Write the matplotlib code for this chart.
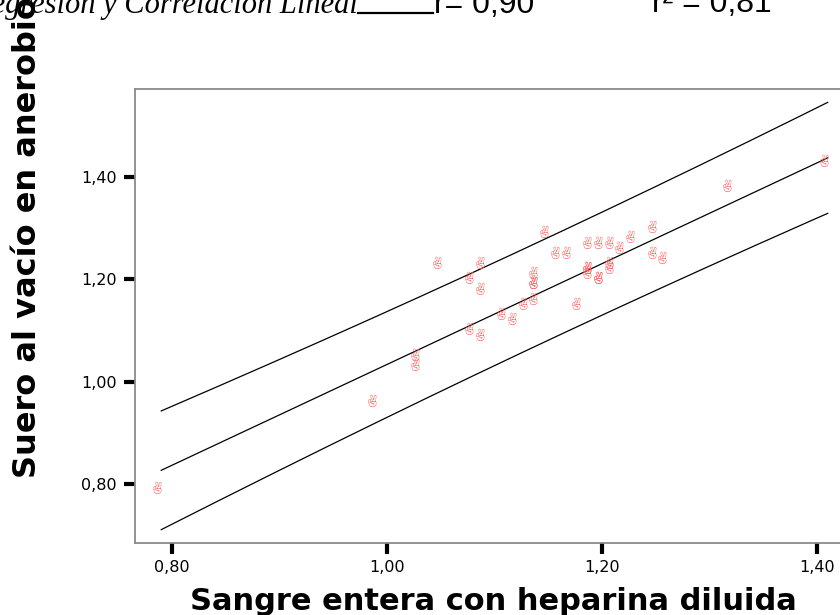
import numpy as np
import matplotlib
matplotlib.use("Agg")
import matplotlib.pyplot as plt
from matplotlib.lines import Line2D
from matplotlib.ticker import FixedLocator, FuncFormatter

# ---- data ----
sangre = [0.79, 0.99, 1.03, 1.03, 1.05, 1.08, 1.08, 1.09, 1.09, 1.09,
          1.11, 1.12, 1.13, 1.14, 1.14, 1.14, 1.14, 1.15, 1.16, 1.17,
          1.18, 1.19, 1.19, 1.19, 1.19, 1.20, 1.20, 1.20, 1.21, 1.21,
          1.21, 1.22, 1.23, 1.25, 1.25, 1.26, 1.32, 1.41]
suero = [0.78, 0.95, 1.04, 1.02, 1.22, 1.19, 1.09, 1.22, 1.17, 1.08,
         1.12, 1.11, 1.14, 1.20, 1.18, 1.18, 1.15, 1.28, 1.24, 1.24,
         1.14, 1.26, 1.21, 1.21, 1.20, 1.26, 1.19, 1.19, 1.26, 1.22,
         1.21, 1.25, 1.27, 1.29, 1.24, 1.23, 1.37, 1.42]
xticks = [0.80, 1.00, 1.20, 1.40]
yticks = [0.80, 1.00, 1.20, 1.40]
title_text = "Regresión y Correlación Lineal"
r_text = "r= 0,90"
r2_text = "r² = 0,81"
xlabel_text = "Sangre entera con heparina diluida"
ylabel_text = "Suero al vacío en anerobiosis"
marker_char = "\u270C"

W, H = 840, 615
fig = plt.figure(figsize=(W / 100, H / 100), dpi=100)
fig.patch.set_facecolor("white")

ax = fig.add_axes([135 / W, 1 - 543 / H, 1 - 135 / W, (543 - 89) / H])
ax.set_xlim(0.7656, 1.4214)
ax.set_ylim(0.6847, 1.572)

# regression line and 95% individual prediction interval
x = np.array(sangre)
y = np.array(suero)
n = len(x)
b, a = np.polyfit(x, y, 1)
res = y - (a + b * x)
s = np.sqrt(np.sum(res ** 2) / (n - 2))
sxx = np.sum((x - x.mean()) ** 2)
t = 2.028
xs = np.linspace(x.min(), x.max(), 200)
fit = a + b * xs
half = t * s * np.sqrt(1 + 1 / n + (xs - x.mean()) ** 2 / sxx)
for yy in (fit + half, fit, fit - half):
    ax.plot(xs, yy, color="black", lw=0.9)

# victory-hand glyph markers (drawn slightly up-left of the point, as SPSS does)
for xi, yi in zip(sangre, suero):
    ax.annotate(marker_char, (xi, yi), xytext=(-2.9, 4.3),
                textcoords="offset points", ha="center", va="center",
                family=["Noto Emoji", "Bona Nova SC", "DejaVu Sans"],
                fontsize=8.5, color="#ff6262", zorder=3)

ax.spines["right"].set_visible(False)
for side in ("left", "bottom", "top"):
    ax.spines[side].set_color("#8a8a8a")
    ax.spines[side].set_linewidth(1.3)

fmt = FuncFormatter(lambda v, p: f"{v:.2f}".replace(".", ","))
ax.xaxis.set_major_locator(FixedLocator(xticks))
ax.yaxis.set_major_locator(FixedLocator(yticks))
ax.xaxis.set_major_formatter(fmt)
ax.yaxis.set_major_formatter(fmt)
ax.tick_params(axis="both", direction="out", length=8, width=3, color="black",
               labelsize=11.5, labelcolor="black")
ax.tick_params(axis="x", pad=4)
ax.tick_params(axis="y", pad=5)
for lab in ax.get_xticklabels() + ax.get_yticklabels():
    lab.set_family("DejaVu Sans")

# title (partly cut at the top in the reference)
base = 1 - 13 / H
fig.text(358 / W, base, title_text, ha="right", va="baseline",
         family="Liberation Serif", style="italic", size=22)
fig.add_artist(Line2D([358 / W, 433 / W], [1 - 12.5 / H] * 2, color="black",
                      lw=1.6))
fig.text(434 / W, base, r_text, ha="left", va="baseline",
         family="Liberation Sans", size=23)
fig.text(652 / W, 1 - 12 / H, r2_text, ha="left", va="baseline",
         family="Liberation Sans", size=23)

# axis labels, sized to match the reference extents
renderer = fig.canvas.get_renderer()


def fit_size(txt, target_px, rot=0):
    tt = fig.text(0, 0, txt, family="DejaVu Sans", weight="bold", size=20,
                  rotation=rot)
    bb = tt.get_window_extent(renderer)
    tt.remove()
    ext = bb.height if rot else bb.width
    return 20 * target_px / ext


xs_size = fit_size(xlabel_text, 609)
fig.text(493 / W, 1 - 610 / H, xlabel_text, ha="center", va="baseline",
         family="DejaVu Sans", weight="bold", size=xs_size)
ys_size = fit_size("Suero al vacío en anerobic", 478, rot=90)
fig.text(28 / W, 1 - 478 / H, ylabel_text, ha="center", va="bottom",
         rotation=90, family="DejaVu Sans", weight="bold", size=ys_size)

fig.savefig("out.png", dpi=100, facecolor="white")
